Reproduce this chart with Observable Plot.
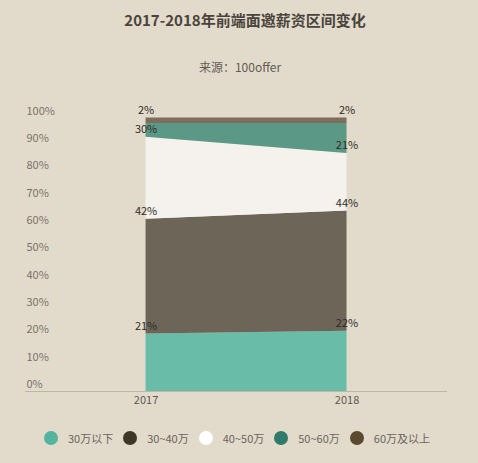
<!DOCTYPE html>
<html>
<head>
<meta charset="utf-8">
<script src="https://cdn.jsdelivr.net/npm/d3@7"></script>
<script src="https://cdn.jsdelivr.net/npm/@observablehq/plot@0.6"></script>
<style>
  html, body { margin: 0; padding: 0; background: #e2dbcc; }
  body { width: 478px; height: 463px; position: relative; overflow: hidden; font-family: "Noto Sans CJK SC", "Noto Sans", sans-serif; }
  #title { position: absolute; top: 8px; left: 0; width: 490px; text-align: center; font-size: 15px; font-weight: bold; color: #4a443c; line-height: 24px; }
  #subtitle { position: absolute; top: 57px; left: 0; width: 480px; text-align: center; font-size: 12px; color: #635c53; line-height: 20px; }
  #chart { position: absolute; top: 85px; left: 0; }
  #legend { position: absolute; top: 429px; left: 0; width: 474px; display: flex; justify-content: center; align-items: center; font-size: 11px; color: #6b645b; line-height: 18px; }
  .item { display: flex; align-items: center; margin: 0 5px; }
  .dot { width: 14px; height: 14px; border-radius: 50%; margin-right: 10px; }
</style>
</head>
<body>
<div id="title">2017-2018年前端面邀薪资区间变化</div>
<div id="subtitle">来源：100offer</div>
<div id="chart"></div>
<div id="legend"></div>
<script>
const years = [2017, 2018];
const categories = ["30万以下", "30~40万", "40~50万", "50~60万", "60万及以上"];
const share2017 = [21, 42, 30, 5, 2];
const share2018 = [22, 44, 21, 11, 2];
const unlabeledCategory = "50~60万";
const yTicks = [0, 10, 20, 30, 40, 50, 60, 70, 80, 90, 100];
const areaColors = ["#69bca8", "#6d6557", "#f5f2ed", "#5b9886", "#7c6d5c"];
const legendColors = ["#54b49d", "#3e3627", "#ffffff", "#2f7a69", "#5a4a2f"];

const seriesByYear = [share2017, share2018];
const data = years.flatMap((yr, i) =>
  categories.map((c, j) => ({year: yr, category: c, value: seriesByYear[i][j]}))
);

const chart = Plot.plot({
  width: 478,
  height: 330,
  marginLeft: 25,
  marginRight: 31,
  marginTop: 32.5,
  marginBottom: 24,
  style: {fontFamily: "'Noto Sans CJK SC', 'Noto Sans', sans-serif", fontSize: "11px", background: "transparent", overflow: "visible"},
  x: {type: "linear", domain: [2016.4, 2018.5], axis: null},
  y: {domain: [0, 100], axis: null},
  color: {domain: categories, range: areaColors},
  marks: [
    Plot.areaY(data, {x: "year", y: "value", z: "category", fill: "category", order: categories, curve: "linear"}),
    Plot.ruleY([0], {stroke: "#bdb5a7", strokeWidth: 1}),
    Plot.text(yTicks, {y: d => d, text: d => d + "%", frameAnchor: "left", textAnchor: "start", dx: 1, dy: -7, fill: "#7a7268", fontSize: 11}),
    Plot.text(years, {x: d => d, text: d => String(d), frameAnchor: "bottom", dy: 12, fill: "#5f584f", fontSize: 11}),
    Plot.text(data, Plot.stackY2({
      x: "year", y: "value", z: "category", order: categories,
      text: d => d.category === unlabeledCategory ? "" : d.value + "%",
      dy: -8, fill: "#2f2a25", fontSize: 11
    }))
  ]
});
document.getElementById("chart").appendChild(chart);

const legend = document.getElementById("legend");
categories.forEach((c, i) => {
  const item = document.createElement("div");
  item.className = "item";
  const dot = document.createElement("span");
  dot.className = "dot";
  dot.style.background = legendColors[i];
  const label = document.createElement("span");
  label.textContent = c;
  item.appendChild(dot);
  item.appendChild(label);
  legend.appendChild(item);
});
</script>
</body>
</html>
